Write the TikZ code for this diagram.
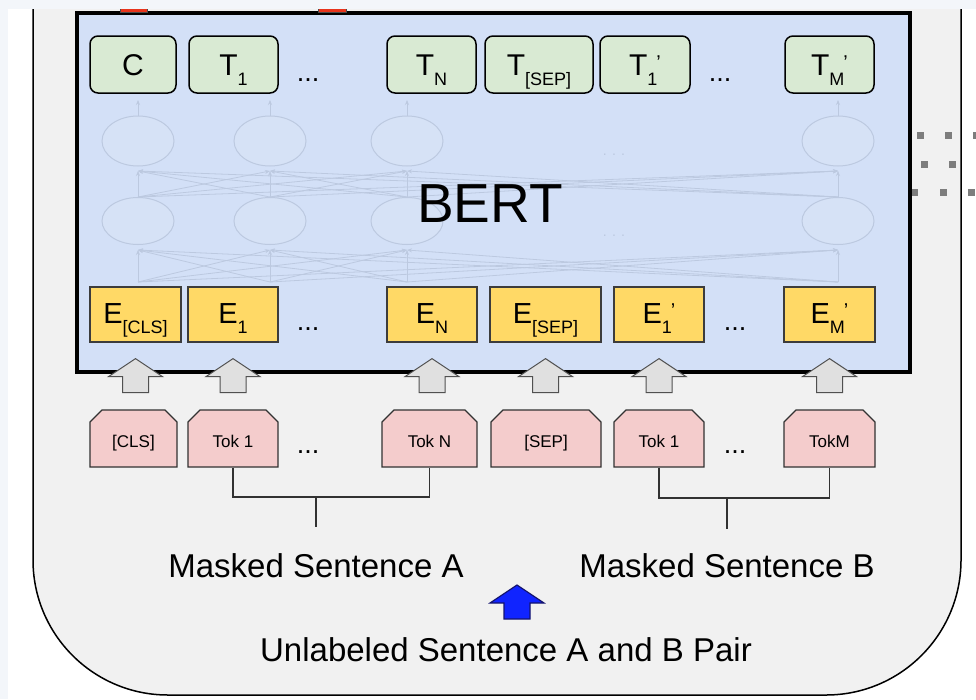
\documentclass[tikz,border=0pt]{standalone}
\usepackage{fontspec}
\setmainfont{Liberation Sans}
\usetikzlibrary{shapes.misc,shapes.geometric,arrows.meta}

\definecolor{pagebg}{RGB}{243,246,250}
\definecolor{panelgray}{RGB}{241,241,241}
\definecolor{bertblue}{RGB}{211,224,247}
\definecolor{outgreen}{RGB}{217,234,211}
\definecolor{embyellow}{RGB}{255,217,102}
\definecolor{eborder}{RGB}{60,60,60}
\definecolor{tokpink}{RGB}{244,204,204}
\definecolor{tokborder}{RGB}{50,50,50}
\definecolor{netline}{RGB}{188,201,224}
\definecolor{netfill}{RGB}{214,226,246}
\definecolor{arrowgray}{RGB}{224,224,224}
\definecolor{arrowedge}{RGB}{80,80,80}
\definecolor{markred}{RGB}{232,52,28}
\definecolor{pairblue}{RGB}{16,36,255}
\definecolor{pairedge}{RGB}{20,20,110}
\definecolor{dotgray}{RGB}{125,125,125}

\newcommand\fsz[1]{\fontsize{#1}{#1}\selectfont}
\def\subdrop{9pt}
% symbol with a lowered subscript
\newcommand\withsub[2]{#1\raisebox{-\subdrop}{\fsz{18}#2}}
% symbol with a lowered subscript followed by a raised prime
\newcommand\withsubp[2]{#1\raisebox{-\subdrop}{\fsz{18}#2}\kern-1pt\raisebox{6pt}{\fsz{20}’}}

\begin{document}
\begin{tikzpicture}[x=1pt,y=-1pt,
  tbox/.style={draw=black, line width=1.5pt, fill=outgreen, rounded corners=8pt,
    minimum height=57, inner sep=0pt, text height=21pt, text depth=0pt,
    font={\fsz{30}\def\subdrop{10pt}}},
  ebox/.style={draw=eborder, line width=1.2pt, fill=embyellow,
    minimum height=55, inner sep=0pt, text height=17pt, text depth=0pt,
    font={\fsz{29}\def\subdrop{10pt}}},
  tokbox/.style={chamfered rectangle, chamfered rectangle corners={north west,north east},
    chamfered rectangle sep=6pt, draw=tokborder, line width=1.2pt, fill=tokpink,
    minimum height=57, inner sep=0pt, text height=17pt, text depth=0pt, font=\fsz{17}},
  dotsnode/.style={anchor=base, inner sep=0pt, font=\fsz{27}},
  netnode/.style={ellipse, draw=netline, fill=netfill, line width=1pt,
    minimum width=72, minimum height=47, inner sep=0pt},
  netarrow/.style={draw=netline, line width=0.8pt, -{Stealth[length=5pt,width=4pt]}},
  bracket/.style={draw=tokborder, line width=1.2pt},
  caption/.style={anchor=base, inner sep=0pt, font=\fsz{33}},
  sq/.style={fill=dotgray, minimum size=7, inner sep=0pt},
  blockup/.pic={\path[pic actions] (0,0) -- (27,18) -- (13,18) -- (13,34)
    -- (-13,34) -- (-13,18) -- (-27,18) -- cycle;}
]
\useasboundingbox (0,0) rectangle (976,699);
\fill[white] (0,0) rectangle (976,699);

% outer panel
\draw[fill=panelgray, line width=1.5pt, rounded corners=135pt] (33,-220) rectangle (961,695);

% dotted marks on the right
\foreach \n/\x/\y in {a/920/135,b/948/135,c/976/135,d/924/164,e/952/164,f/914/192,g/943/192,h/971/192}
  \node[sq] (sq\n) at (\x,\y) {};

% BERT block
\draw[fill=bertblue, line width=4pt] (77,13) rectangle (910,372);
\fill[markred, draw=black!70, line width=0.6pt] (120,3) rectangle (147,12);
\fill[markred, draw=black!70, line width=0.6pt] (318,3) rectangle (346,12);

% faint transformer network
\foreach \k/\x in {1/138,2/270,3/407,4/838} {
  \node[netnode] (lo\k) at (\x,221) {};
  \node[netnode, minimum height=50] (up\k) at (\x,141) {};
  \coordinate (ls\k) at (\x,282);
  \coordinate (lt\k) at (\x,250);
  \coordinate (ut\k) at (\x,171);
  \coordinate (ot\k) at (\x,100);
}
\foreach \i in {1,...,4} {
  \foreach \j in {1,...,4} {
    \draw[netarrow] (ls\i) -- (lt\j);
    \draw[netarrow] (lo\i.north) -- (ut\j);
  }
  \draw[netarrow] (up\i.north) -- (ot\i);
}
\node[text=netline, font=\fsz{14}] (ndu) at (614,155) {. . .};
\node[text=netline, font=\fsz{14}] (ndl) at (614,236) {. . .};

\node[anchor=base, inner sep=0pt, font=\fsz{55}] (bert) at (490,222) {BERT};

% output tokens
\node[tbox, minimum width=86] (oC) at (133,64.5) {C};
\node[tbox, minimum width=89] (o1) at (233.5,64.5) {\withsub{T}{1}};
\node[dotsnode] (od1) at (308,81) {...};
\node[tbox, minimum width=89] (oN) at (431.5,64.5) {\withsub{T}{N}};
\node[tbox, minimum width=108] (oS) at (539,64.5) {\withsub{T}{[SEP]}};
\node[tbox, minimum width=90] (oB1) at (645,64.5) {\withsubp{T}{1}};
\node[dotsnode] (od2) at (720,81) {...};
\node[tbox, minimum width=89] (oBM) at (829.5,64.5) {\withsubp{T}{M}};

% input embeddings
\node[ebox, minimum width=91] (eC) at (135.5,314.5) {\withsub{E}{[CLS]}};
\node[ebox, minimum width=90] (e1) at (233,314.5) {\withsub{E}{1}};
\node[dotsnode] (ed1) at (308,330) {...};
\node[ebox, minimum width=90] (eN) at (432,314.5) {\withsub{E}{N}};
\node[ebox, minimum width=111] (eS) at (545.5,314.5) {\withsub{E}{[SEP]}};
\node[ebox, minimum width=90] (eB1) at (659,314.5) {\withsubp{E}{1}};
\node[dotsnode] (ed2) at (735,330) {...};
\node[ebox, minimum width=91] (eBM) at (829.5,314.5) {\withsubp{E}{M}};

% input tokens
\node[tokbox, minimum width=87] (tC) at (133.5,438.5) {[CLS]};
\node[tokbox, minimum width=90] (tA1) at (233,438.5) {Tok 1};
\node[dotsnode] (td1) at (308,453) {...};
\node[tokbox, minimum width=95] (tAN) at (429.5,438.5) {Tok N};
\node[tokbox, minimum width=110] (tS) at (546,438.5) {[SEP]};
\node[tokbox, minimum width=90] (tB1) at (659,438.5) {Tok 1};
\node[dotsnode] (td2) at (735,453) {...};
\node[tokbox, minimum width=91] (tBM) at (829.5,438.5) {TokM};

% block arrows from tokens into the embeddings
\foreach \e in {eC,e1,eN,eS,eB1,eBM}
  \pic[fill=arrowgray, draw=arrowedge, line width=1pt] at ([yshift=-16pt]\e.south) {blockup};

% sentence brackets
\coordinate (jA) at (316,497);
\coordinate (jAend) at (316,527);
\coordinate (jB) at (727,498);
\coordinate (jBend) at (727,529);
\draw[bracket] (tA1.south) |- (jA) -| (tAN.south);
\draw[bracket] (jA) -- (jAend);
\draw[bracket] (tB1.south) |- (jB) -| (tBM.south);
\draw[bracket] (jB) -- (jBend);

\node[caption] (sentA) at (316,577) {Masked Sentence A};
\node[caption] (sentB) at (727,577) {Masked Sentence B};
\node[caption] (pair) at (506,661) {Unlabeled Sentence A and B Pair};
\pic[fill=pairblue, draw=pairedge, line width=1.2pt] at (517,585) {blockup};

% page margins
\fill[pagebg] (0,0) rectangle (976,9);
\fill[pagebg] (0,0) rectangle (8,699);
\end{tikzpicture}
\end{document}
